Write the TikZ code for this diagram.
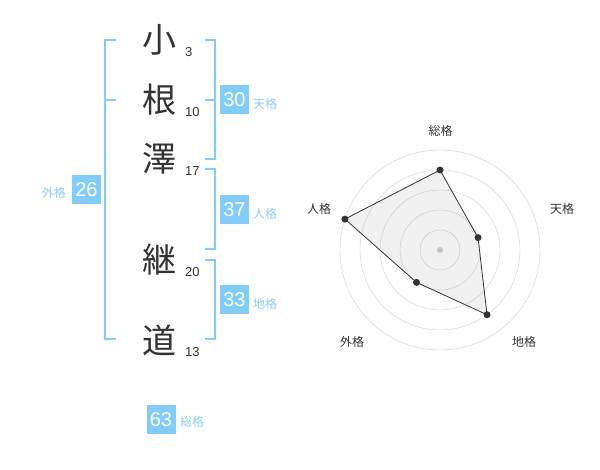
\documentclass[tikz,border=0pt]{standalone}
\usepackage{fontspec}
\setmainfont{Liberation Sans}
\newfontfamily\jp{Noto Sans CJK JP}
\definecolor{sky}{RGB}{129,204,248}
\definecolor{skytext}{RGB}{140,206,244}
\definecolor{ink}{RGB}{51,51,51}
\definecolor{ring}{RGB}{208,208,208}
\tikzset{
 kanji/.style={font=\jp\fontsize{34}{34}\selectfont, text=ink, inner sep=0pt},
 strokes/.style={font=\fontsize{13}{13}\selectfont, text=ink, anchor=west, inner sep=0pt},
 kakubox/.style={fill=sky, text=white, minimum size=29pt, inner sep=0pt, font=\fontsize{20}{20}\selectfont},
 kakulabel/.style={text=skytext, font=\jp\fontsize{12}{12}\selectfont, inner sep=0pt},
 bracket/.style={draw=sky, line width=2pt},
 axislabel/.style={text=ink, font=\jp\fontsize{12}{12}\selectfont, inner sep=0pt}
}

\begin{document}
\begin{tikzpicture}[x=1pt,y=-1pt]
\useasboundingbox (0,0) rectangle (600,470);
\foreach \n/\k/\y/\s in {k1/小/40/3, k2/根/100/10, k3/澤/159/17, k4/継/260/20, k5/道/340/13}
	{
	\node[kanji] (\n) at (159,\y) {\k};
	\node[strokes] (s\n) at (185,\y+12) {\s};
	}
\draw[bracket] (116,40) -- (105,40) -- (105,339) -- (116,339) (105,100) -- (116,100);
\draw[bracket] (205,40) -- (215,40) -- (215,159) -- (205,159) (205,100) -- (215,100);
\draw[bracket] (205,169) -- (215,169) -- (215,249) -- (205,249);
\draw[bracket] (205,260) -- (215,260) -- (215,339) -- (205,339);
\node[kakubox] (ten) at (234.5,100) {30};
\node[kakulabel,anchor=west] (tenl) at (253,104) {天格};
\node[kakubox] (jin) at (234.5,210) {37};
\node[kakulabel,anchor=west] (jinl) at (253,214) {人格};
\node[kakubox] (chi) at (234.5,300) {33};
\node[kakulabel,anchor=west] (chil) at (253,304) {地格};
\node[kakubox] (gai) at (86.5,190) {26};
\node[kakulabel,anchor=east] (gail) at (66,193) {外格};
\node[kakubox] (sou) at (161,419.5) {63};
\node[kakulabel,anchor=west] (soul) at (180,422) {総格};
\coordinate (O) at (440,250);
\foreach \r in {20,40,...,100}
	\draw[ring] (O) circle (\r pt);
\fill[ring] (O) circle (3pt);
\foreach \i/\r in {1/80,2/40,3/80,4/40,5/100}
	\path (O) ++({162-72*\i}:\r pt) coordinate (a\i);
\draw[ink,line width=0.8pt,fill=black,fill opacity=0.06] (a1) -- (a2) -- (a3) -- (a4) -- (a5) -- cycle;
\foreach \i in {1,...,5}
	\fill[ink] (a\i) circle (3.5pt);
\foreach \n/\x/\y/\t in {t1/440.5/131/総格, t2/562/209/天格, t3/524/342/地格, t4/352/342/外格, t5/319/209/人格}
	\node[axislabel] (\n) at (\x,\y) {\t};
\end{tikzpicture}
\end{document}
